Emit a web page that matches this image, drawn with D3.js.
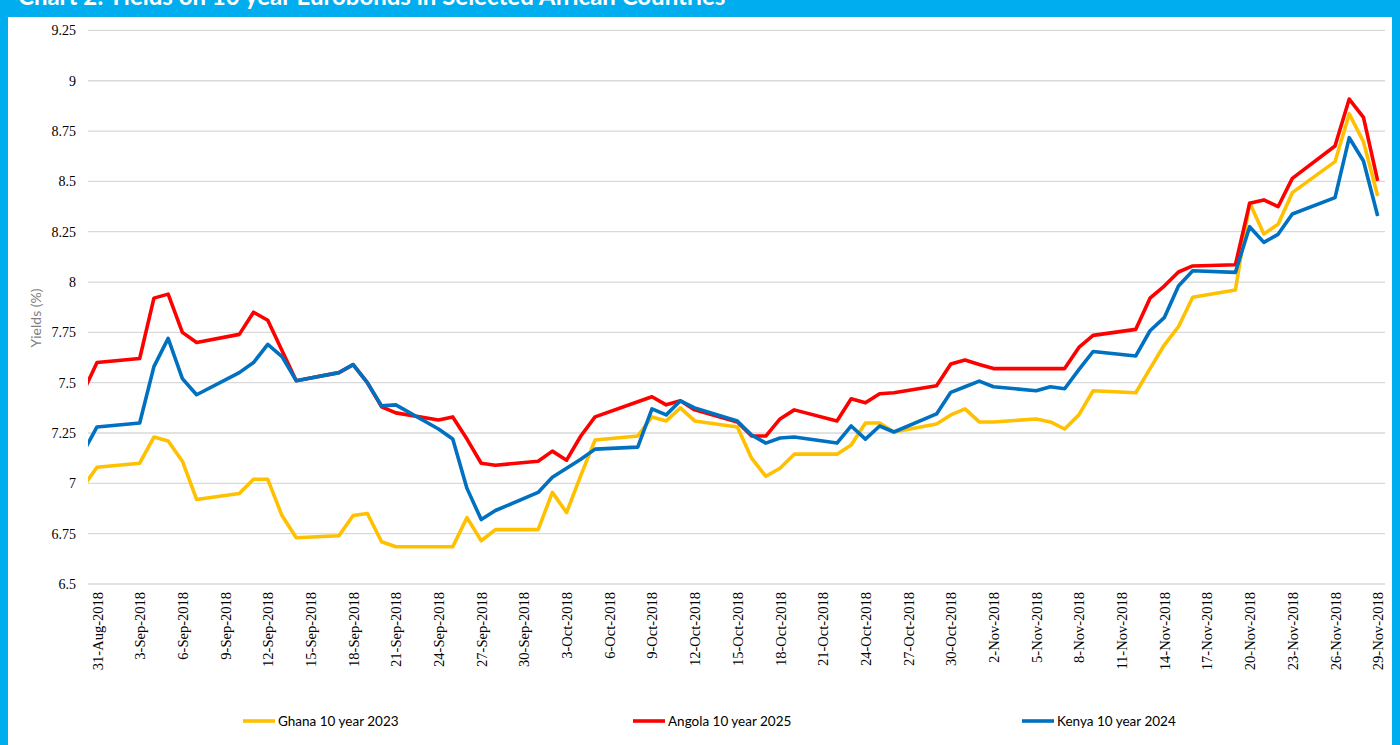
<!DOCTYPE html>
<html><head><meta charset="utf-8">
<script src="https://cdn.jsdelivr.net/npm/d3@7/dist/d3.min.js"></script>
<style>html,body{margin:0;padding:0;background:#fff;}svg{display:block;}</style>
</head><body>
<svg id="chart" width="1400" height="745"></svg>
<script>
const dates = ["2018-08-30","2018-08-31","2018-09-03","2018-09-04","2018-09-05","2018-09-06","2018-09-07","2018-09-10","2018-09-11","2018-09-12","2018-09-13","2018-09-14","2018-09-17","2018-09-18","2018-09-19","2018-09-20","2018-09-21","2018-09-24","2018-09-25","2018-09-26","2018-09-27","2018-09-28","2018-10-01","2018-10-02","2018-10-03","2018-10-04","2018-10-05","2018-10-08","2018-10-09","2018-10-10","2018-10-11","2018-10-12","2018-10-15","2018-10-16","2018-10-17","2018-10-18","2018-10-19","2018-10-22","2018-10-23","2018-10-24","2018-10-25","2018-10-26","2018-10-29","2018-10-30","2018-10-31","2018-11-01","2018-11-02","2018-11-05","2018-11-06","2018-11-07","2018-11-08","2018-11-09","2018-11-12","2018-11-13","2018-11-14","2018-11-15","2018-11-16","2018-11-19","2018-11-20","2018-11-21","2018-11-22","2018-11-23","2018-11-26","2018-11-27","2018-11-28","2018-11-29"];
const ghana = [6.98,7.08,7.10,7.23,7.21,7.11,6.92,6.95,7.02,7.02,6.84,6.73,6.74,6.84,6.85,6.71,6.685,6.685,6.685,6.83,6.715,6.77,6.77,6.955,6.855,7.04,7.215,7.235,7.33,7.31,7.375,7.31,7.28,7.125,7.035,7.075,7.145,7.145,7.19,7.30,7.30,7.255,7.295,7.34,7.37,7.305,7.305,7.32,7.305,7.27,7.34,7.46,7.45,7.57,7.687,7.778,7.924,7.96,8.394,8.239,8.287,8.444,8.598,8.835,8.697,8.427];
const angola = [7.45,7.60,7.62,7.92,7.94,7.75,7.70,7.74,7.85,7.81,7.66,7.51,7.55,7.59,7.50,7.38,7.35,7.315,7.33,7.22,7.10,7.09,7.11,7.16,7.115,7.235,7.33,7.405,7.43,7.39,7.41,7.365,7.305,7.235,7.235,7.32,7.365,7.31,7.42,7.40,7.445,7.45,7.485,7.593,7.613,7.59,7.57,7.57,7.57,7.57,7.675,7.735,7.765,7.92,7.98,8.05,8.08,8.086,8.391,8.408,8.374,8.515,8.676,8.909,8.818,8.503];
const kenya = [7.15,7.28,7.30,7.58,7.72,7.52,7.44,7.55,7.60,7.69,7.63,7.51,7.55,7.59,7.50,7.385,7.39,7.27,7.22,6.975,6.82,6.865,6.955,7.03,7.075,7.12,7.17,7.18,7.37,7.34,7.41,7.375,7.31,7.24,7.20,7.225,7.23,7.20,7.285,7.22,7.285,7.255,7.345,7.452,7.48,7.508,7.48,7.46,7.48,7.47,7.565,7.655,7.633,7.758,7.823,7.98,8.056,8.048,8.275,8.197,8.237,8.338,8.419,8.717,8.601,8.328];
const seriesNames = ["Ghana 10 year 2023","Angola 10 year 2025","Kenya 10 year 2024"];
const seriesColors = ["#FFC000","#FF0000","#0070C0"];
const yTicks = [6.5,6.75,7,7.25,7.5,7.75,8,8.25,8.5,8.75,9,9.25];
const xTickLabels = ["31-Aug-2018","3-Sep-2018","6-Sep-2018","9-Sep-2018","12-Sep-2018","15-Sep-2018","18-Sep-2018","21-Sep-2018","24-Sep-2018","27-Sep-2018","30-Sep-2018","3-Oct-2018","6-Oct-2018","9-Oct-2018","12-Oct-2018","15-Oct-2018","18-Oct-2018","21-Oct-2018","24-Oct-2018","27-Oct-2018","30-Oct-2018","2-Nov-2018","5-Nov-2018","8-Nov-2018","11-Nov-2018","14-Nov-2018","17-Nov-2018","20-Nov-2018","23-Nov-2018","26-Nov-2018","29-Nov-2018"];
const titleText = "Chart 2: Yields on 10 year Eurobonds in Selected African Countries";
const yTitle = "Yields (%)";

const svg = d3.select("#chart");
const W = 1400, H = 745;
// frame
svg.append("rect").attr("x",0).attr("y",0).attr("width",W).attr("height",H).attr("fill","#00AEEF");
svg.append("rect").attr("x",8).attr("y",17).attr("width",1384).attr("height",H-17).attr("fill","#fff");
svg.append("text").attr("x",18).attr("y",5).attr("fill","#fff")
  .attr("font-family","Lato, 'Open Sans', sans-serif").attr("font-weight","bold").attr("font-size",24)
  .text(titleText);

const parse = d3.timeParse("%Y-%m-%d");
const labelParse = d3.timeParse("%d-%b-%Y");
const dts = dates.map(parse);
const plotL = 88, plotR = 1385, plotT = 30.4, plotB = 584;
const x = d3.scaleTime().domain([parse("2018-08-31"), parse("2018-11-29")]).range([97, 1377.7]);
const y = d3.scaleLinear().domain([6.5, 9.25]).range([plotB, plotT]);

// gridlines
svg.append("g").selectAll("line").data(yTicks).join("line")
  .attr("x1",plotL).attr("x2",plotR).attr("y1",d=>y(d)).attr("y2",d=>y(d))
  .attr("stroke","#D9D9D9").attr("stroke-width",1.3);

// y axis labels
const yAxis = d3.axisLeft(y).tickValues(yTicks).tickSize(0).tickPadding(0).tickFormat(d3.format("~g"));
const gy = svg.append("g").attr("transform","translate(76,0)").call(yAxis);
gy.select(".domain").remove();
gy.selectAll("text").attr("font-family","'Liberation Serif', serif").attr("font-size",14).attr("fill","#000");

// x axis labels
const xAxis = d3.axisBottom(x).tickValues(xTickLabels.map(labelParse)).tickSize(0).tickFormat((d,i)=>xTickLabels[i]);
const gx = svg.append("g").attr("transform",`translate(0,${plotB})`).call(xAxis);
gx.select(".domain").remove();
gx.selectAll("text").attr("font-family","'Liberation Serif', serif").attr("font-size",14.5).attr("fill","#000")
  .attr("text-anchor","end").attr("dy",null).attr("y",0)
  .attr("transform","translate(5,8) rotate(-90)");

// y title
svg.append("text").attr("transform","translate(41,318) rotate(-90)").attr("text-anchor","middle")
  .attr("font-family","Lato, sans-serif").attr("font-size",14).attr("fill","#7F7F7F").text(yTitle);

// clip
svg.append("clipPath").attr("id","clip").append("rect").attr("x",plotL).attr("y",0).attr("width",plotR-plotL).attr("height",H);
const line = d3.line().x((d,i)=>x(dts[i])).y(d=>y(d));
const allSeries = [ghana, angola, kenya];
svg.append("g").attr("clip-path","url(#clip)").selectAll("path").data(allSeries).join("path")
  .attr("d",d=>line(d)).attr("fill","none").attr("stroke",(d,i)=>seriesColors[i])
  .attr("stroke-width",3.6).attr("stroke-linejoin","round");

// legend
const legX = [243, 633, 1022];
const lg = svg.append("g").selectAll("g").data(seriesNames).join("g")
  .attr("transform",(d,i)=>`translate(${legX[i]},721)`);
lg.append("line").attr("x1",0).attr("x2",32).attr("y1",0).attr("y2",0)
  .attr("stroke",(d,i)=>seriesColors[i]).attr("stroke-width",3.6);
lg.append("text").attr("x",35).attr("y",4.5).attr("font-family","Lato, sans-serif").attr("font-size",13.5)
  .attr("fill","#000").text(d=>d);
</script>
</body></html>
